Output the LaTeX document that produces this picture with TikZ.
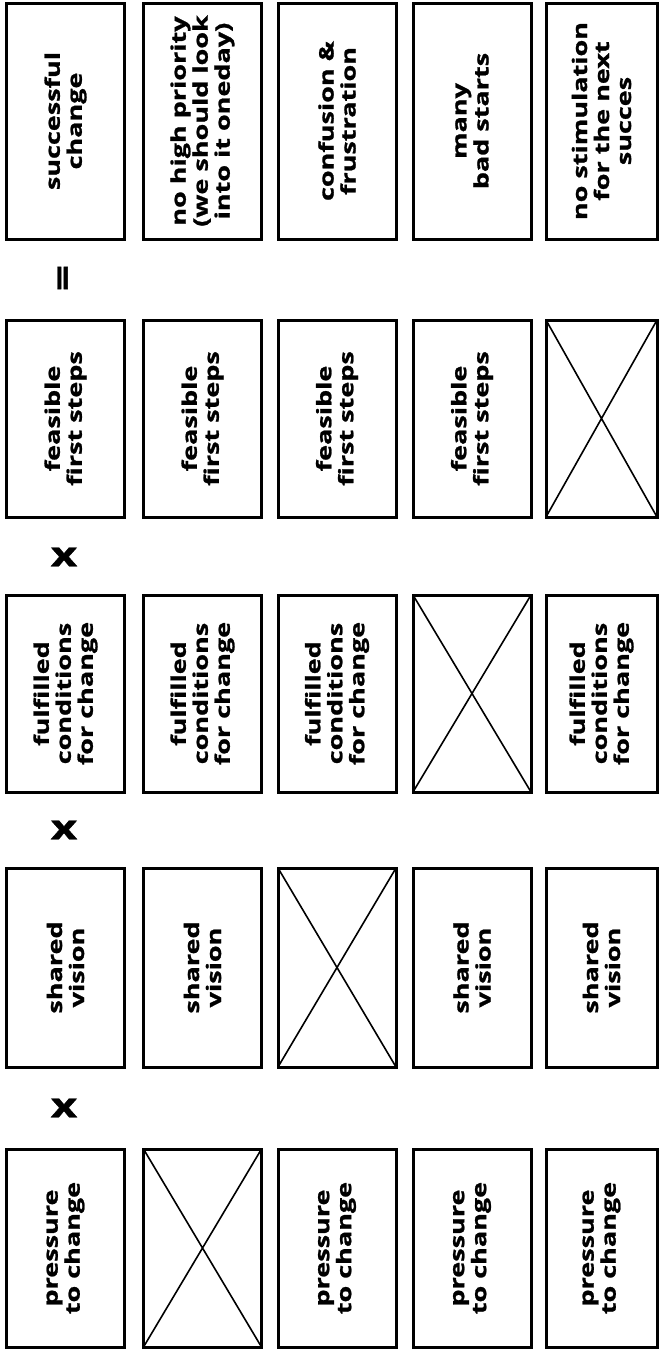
\documentclass[tikz,border=0pt]{standalone}
\usepackage{fontspec}
\setmainfont{Open Sans}[FakeStretch=1.35, BoldFeatures={FakeBold=1.2}]
\newcommand\boxfont{\bfseries\fontsize{20}{22}\selectfont}
\newcommand\symfont{\bfseries\fontsize{34}{34}\selectfont}
\begin{document}
\begin{tikzpicture}[x=1pt,y=-1pt,
  box/.style={draw, line width=3pt, rotate=90, inner sep=0pt, outer sep=0pt,
              align=center, font=\boxfont, minimum height=118pt},
  rowA/.style={minimum width=236pt},
  rowB/.style={minimum width=197pt},
  rowC/.style={minimum width=197pt},
  rowD/.style={minimum width=199pt},
  rowE/.style={minimum width=198pt},
  lastcol/.style={minimum height=111pt},
  crossline/.style={line width=1.6pt},
  sym/.style={font=\symfont, inner sep=0pt}]
\useasboundingbox (0,0) rectangle (659,1349);
% row A: results
\node[box,rowA] (a1) at (65.5,121) {successful\\change};
\node[box,rowA] (a2) at (202.5,121) {no high priority\\(we should look\\into it oneday)};
\node[box,rowA] (a3) at (337,121) {confusion \&\\frustration};
\node[box,rowA] (a4) at (472,121) {many\\bad starts};
\node[box,rowA,lastcol] (a5) at (601.5,121) {no stimulation\\for the next\\succes};
% row B
\node[box,rowB] (b1) at (65.5,418.5) {feasible\\first steps};
\node[box,rowB] (b2) at (202.5,418.5) {feasible\\first steps};
\node[box,rowB] (b3) at (337,418.5) {feasible\\first steps};
\node[box,rowB] (b4) at (472,418.5) {feasible\\first steps};
\node[box,rowB,lastcol] (b5) at (601.5,418.5) {};
% row C
\node[box,rowC] (c1) at (65.5,693.5) {fulfilled\\conditions\\for change};
\node[box,rowC] (c2) at (202.5,693.5) {fulfilled\\conditions\\for change};
\node[box,rowC] (c3) at (337,693.5) {fulfilled\\conditions\\for change};
\node[box,rowC] (c4) at (472,693.5) {};
\node[box,rowC,lastcol] (c5) at (601.5,693.5) {fulfilled\\conditions\\for change};
% row D
\node[box,rowD] (d1) at (65.5,967.5) {shared\\vision};
\node[box,rowD] (d2) at (202.5,967.5) {shared\\vision};
\node[box,rowD] (d3) at (337,967.5) {};
\node[box,rowD] (d4) at (472,967.5) {shared\\vision};
\node[box,rowD,lastcol] (d5) at (601.5,967.5) {shared\\vision};
% row E
\node[box,rowE] (e1) at (65.5,1248) {pressure\\to change};
\node[box,rowE] (e2) at (202.5,1248) {};
\node[box,rowE] (e3) at (337,1248) {pressure\\to change};
\node[box,rowE] (e4) at (472,1248) {pressure\\to change};
\node[box,rowE,lastcol] (e5) at (601.5,1248) {pressure\\to change};
% crosses
\foreach \n in {b5,c4,d3,e2}{
  \draw[crossline] (\n.north west) -- (\n.south east) (\n.south west) -- (\n.north east);
}
% operators
\node[sym,rotate=90] (eq) at (66,278) {=};
\node[sym] (x1) at (64,557) {x};
\node[sym] (x2) at (64,830) {x};
\node[sym] (x3) at (64,1108) {x};
\end{tikzpicture}
\end{document}
